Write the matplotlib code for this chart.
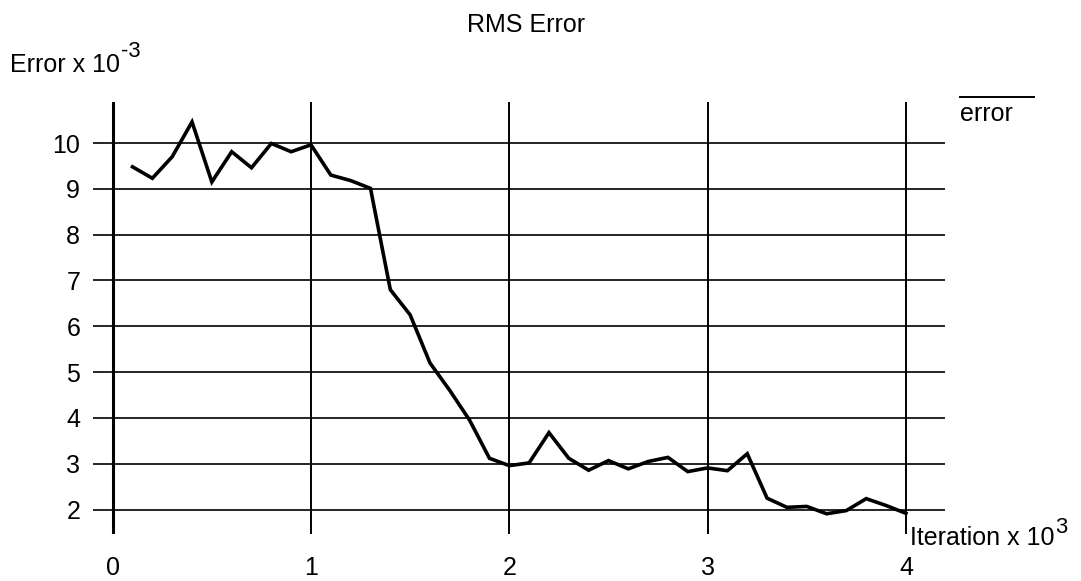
import matplotlib
matplotlib.use("Agg")
import matplotlib.pyplot as plt
from matplotlib.lines import Line2D

plt.rcParams['font.family'] = ['Liberation Sans', 'DejaVu Sans']

# Data (iteration x 10^3, error x 10^-3)
iterations = [0.1, 0.2, 0.3, 0.4, 0.5, 0.6, 0.7, 0.8, 0.9, 1.0,
              1.1, 1.2, 1.3, 1.4, 1.5, 1.6, 1.7, 1.8, 1.9, 2.0,
              2.1, 2.2, 2.3, 2.4, 2.5, 2.6, 2.7, 2.8, 2.9, 3.0,
              3.1, 3.2, 3.3, 3.4, 3.5, 3.6, 3.7, 3.8, 3.9, 4.0]
errors = [9.48, 9.23, 9.70, 10.46, 9.15, 9.81, 9.46, 9.99, 9.81, 9.96,
          9.30, 9.18, 9.01, 6.80, 6.25, 5.20, 4.60, 3.95, 3.12, 2.96,
          3.02, 3.68, 3.12, 2.86, 3.07, 2.89, 3.05, 3.14, 2.83, 2.91,
          2.85, 3.22, 2.25, 2.05, 2.07, 1.91, 1.98, 2.24, 2.09, 1.92]
x_ticks = [0, 1, 2, 3, 4]
y_ticks = [2, 3, 4, 5, 6, 7, 8, 9, 10]

W, H = 1081, 581
fig = plt.figure(figsize=(W / 100, H / 100), dpi=100)
left_px, right_px, top_px, bottom_px = 92.7, 945, 102, 534
ax = fig.add_axes([left_px / W, 1 - bottom_px / H,
                   (right_px - left_px) / W, (bottom_px - top_px) / H])

x0_px, px_per_x = 112.7, 198.3
y10_px, px_per_y = 143.0, 45.83
ax.set_xlim((left_px - x0_px) / px_per_x, (right_px - x0_px) / px_per_x)
ax.set_ylim(10 - (bottom_px - y10_px) / px_per_y, 10 + (y10_px - top_px) / px_per_y)

for s in ax.spines.values():
    s.set_visible(False)

for y in y_ticks:
    ax.axhline(y, color='black', lw=1.2, zorder=1)
for x in x_ticks:
    ax.axvline(x, color='black', lw=2.2 if x == 0 else 1.4, zorder=1)

ax.plot(iterations, errors, color='black', lw=2.6, zorder=3,
        solid_joinstyle='miter')

fs = 18
ax.set_xticks(x_ticks)
ax.set_yticks(y_ticks)
ax.tick_params(axis='both', length=0, labelsize=fs)
ax.tick_params(axis='y', pad=9)
ax.tick_params(axis='x', pad=16)

renderer = fig.canvas.get_renderer()


def text_with_sup(x_px, base_px, main, sup, sup_base_px):
    t = fig.text(x_px / W, 1 - base_px / H, main, ha='left', va='baseline', fontsize=fs)
    bb = t.get_window_extent(renderer=renderer)
    fig.text((bb.x1 + 1) / W, 1 - sup_base_px / H, sup, ha='left', va='baseline',
             fontsize=fs * 0.88)


fig.text(526 / W, 1 - 32 / H, 'RMS Error', ha='center', va='baseline', fontsize=fs)
text_with_sup(10, 72, 'Error x 10', '-3', 57)
text_with_sup(910, 545, 'Iteration x 10', '3', 533)
fig.text(960 / W, 1 - 121 / H, 'error', ha='left', va='baseline', fontsize=fs)
fig.add_artist(Line2D([960 / W, 1034 / W], [1 - 97 / H, 1 - 97 / H],
                      color='black', lw=1.4, transform=fig.transFigure))

fig.savefig('out.png', dpi=100)
